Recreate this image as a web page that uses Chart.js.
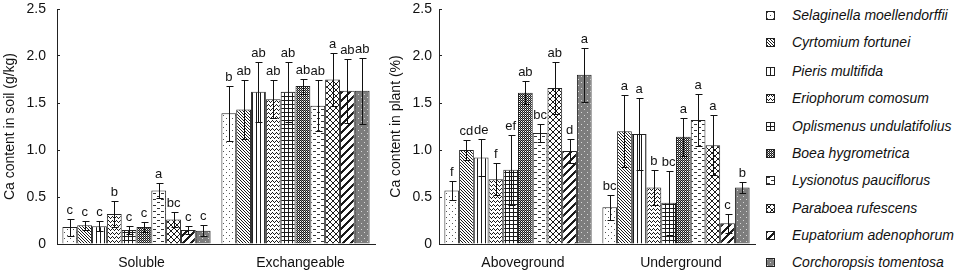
<!DOCTYPE html>
<html>
<head>
<meta charset="utf-8">
<script src="https://cdn.jsdelivr.net/npm/chart.js@4.4.1/dist/chart.umd.min.js"></script>
<style>
  html, body { margin:0; padding:0; background:#fff; }
  #wrap { position:relative; width:964px; height:275px; overflow:hidden; font-family: Arial, "Liberation Sans", sans-serif; }
  #c1box { position:absolute; left:0; top:0; width:385px; height:275px; }
  #c2box { position:absolute; left:385px; top:0; width:375px; height:275px; }
  .lg { position:absolute; left:760px; height:16px; width:204px; }
  .lg canvas { position:absolute; left:6px; top:4px; width:9px; height:9px; }
  .lg span { position:absolute; left:32px; top:0; line-height:16px; font-size:14px; font-style:italic; color:#111; white-space:nowrap; }
</style>
</head>
<body>
<div id="wrap">
  <div id="c1box"><canvas id="c1"></canvas></div>
  <div id="c2box"><canvas id="c2"></canvas></div>
  <div id="legend"></div>
</div>
<script>
// ---------- DATA ----------
const species = [
  'Selaginella moellendorffii', 'Cyrtomium fortunei', 'Pieris multifida', 'Eriophorum comosum',
  'Oplismenus undulatifolius', 'Boea hygrometrica', 'Lysionotus pauciflorus', 'Paraboea rufescens',
  'Eupatorium adenophorum', 'Corchoropsis tomentosa'
];
const soilCategories  = ['Soluble', 'Exchangeable'];
const plantCategories = ['Aboveground', 'Underground'];
const yTicks = [0, 0.5, 1.0, 1.5, 2.0, 2.5];

const solubleMean = [0.18, 0.20, 0.19, 0.32, 0.15, 0.18, 0.57, 0.26, 0.15, 0.14];
const solubleErr  = [0.09, 0.05, 0.05, 0.14, 0.04, 0.05, 0.08, 0.08, 0.04, 0.06];
const solubleSig  = ['c', 'c', 'c', 'b', 'c', 'c', 'a', 'bc', 'c', 'c'];

const exchMean = [1.39, 1.43, 1.62, 1.54, 1.62, 1.68, 1.47, 1.75, 1.63, 1.63];
const exchErr  = [0.29, 0.31, 0.32, 0.20, 0.32, 0.08, 0.27, 0.28, 0.34, 0.35];
const exchSig  = ['b', 'ab', 'ab', 'ab', 'ab', 'ab', 'ab', 'a', 'ab', 'ab'];

const aboveMean = [0.57, 1.00, 0.92, 0.69, 0.79, 1.61, 1.18, 1.66, 0.99, 1.80];
const aboveErr  = [0.10, 0.11, 0.20, 0.17, 0.37, 0.12, 0.10, 0.28, 0.13, 0.29];
const aboveSig  = ['f', 'cd', 'de', 'f', 'ef', 'ab', 'bc', 'ab', 'd', 'a'];

const underMean = [0.39, 1.20, 1.17, 0.60, 0.44, 1.14, 1.32, 1.05, 0.22, 0.60];
const underErr  = [0.13, 0.38, 0.38, 0.19, 0.34, 0.20, 0.28, 0.32, 0.10, 0.06];
const underSig  = ['bc', 'a', 'a', 'b', 'bc', 'a', 'a', 'a', 'c', 'b'];

// ---------- PATTERNS ----------
const INK = '#1a1a1a';
function tile(w, h, bg, fn) {
  const c = document.createElement('canvas');
  c.width = w; c.height = h;
  const g = c.getContext('2d');
  g.fillStyle = bg; g.fillRect(0, 0, w, h);
  fn(g, w, h);
  return c;
}
function px(g, x, y, col) { g.fillStyle = col || INK; g.fillRect(x, y, 1, 1); }
const tiles = [
  tile(6, 6, '#fff', g => { px(g,1,1,'#555'); px(g,4,4,'#555'); }),
  tile(3, 3, '#fff', g => { for (let i=0;i<3;i++) px(g,i,i); }),
  tile(4, 1, '#fff', g => { px(g,0,0); }),
  tile(4, 4, '#fff', g => { px(g,0,0); px(g,1,1); px(g,2,2); px(g,3,1); }),
  tile(4, 4, '#fff', g => { g.fillStyle = INK; g.fillRect(0,0,4,1); g.fillRect(0,0,1,4); }),
  tile(2, 2, '#fff', g => { px(g,0,0); px(g,1,1); px(g,1,0,'#888'); }),
  tile(8, 6, '#fff', g => { g.fillStyle = '#333'; g.fillRect(1,1,3,1); g.fillRect(5,4,3,1); }),
  tile(6, 6, '#fff', g => { for (let i=0;i<6;i++){ px(g,i,i); px(g,i,5-i); } }),
  tile(8, 8, '#fff', g => { for (let x=0;x<8;x++) for (let y=0;y<8;y++) if (((x+y)%8) < 3) px(g,x,y); }),
  tile(6, 6, '#7d7d7d', g => { px(g,1,1,'#d8d8d8'); px(g,4,4,'#d8d8d8'); })
];
function patternsFor(ctx) { return tiles.map(t => ctx.createPattern(t, 'repeat')); }

// ---------- PLUGIN: error bars + significance letters ----------
const errorBars = {
  id: 'errorBars',
  afterDatasetsDraw(chart) {
    const { ctx } = chart;
    const y = chart.scales.y;
    ctx.save();
    ctx.strokeStyle = '#111';
    ctx.lineWidth = 1;
    ctx.fillStyle = '#111';
    ctx.font = '13px Arial, "Liberation Sans", sans-serif';
    ctx.textAlign = 'center';
    ctx.textBaseline = 'alphabetic';
    chart.data.datasets.forEach((ds, i) => {
      const meta = chart.getDatasetMeta(i);
      meta.data.forEach((bar, j) => {
        const v = ds.data[j], e = ds.errors[j];
        const x = Math.round(bar.x) + 0.5;
        const yT = Math.round(y.getPixelForValue(v + e)) + 0.5;
        const yB = Math.round(y.getPixelForValue(v - e)) + 0.5;
        ctx.beginPath();
        ctx.moveTo(x, yT); ctx.lineTo(x, yB);
        ctx.moveTo(x - 3, yT); ctx.lineTo(x + 4, yT);
        ctx.moveTo(x - 3, yB); ctx.lineTo(x + 4, yB);
        ctx.stroke();
        ctx.fillText(ds.sig[j], bar.x, yT - 6);
      });
    });
    ctx.restore();
  }
};

Chart.defaults.font.family = 'Arial, "Liberation Sans", sans-serif';
Chart.defaults.color = '#111';
Chart.defaults.animation = false;

function build(canvasId, cats, m1, e1, s1, m2, e2, s2, opts) {
  const cv = document.getElementById(canvasId);
  const ctx = cv.getContext('2d');
  const pats = patternsFor(ctx);
  const datasets = species.map((name, i) => ({
    label: name,
    data: [m1[i], m2[i]],
    errors: [e1[i], e2[i]],
    sig: [s1[i], s2[i]],
    backgroundColor: pats[i],
    borderColor: '#222',
    borderWidth: 1,
    categoryPercentage: 0.932,
    barPercentage: 1.0
  }));
  return new Chart(ctx, {
    type: 'bar',
    data: { labels: cats, datasets },
    options: {
      responsive: true,
      maintainAspectRatio: false,
      layout: { padding: { left: 0, right: opts.padRight, top: 9, bottom: 0 } },
      plugins: { legend: { display: false }, tooltip: { enabled: false } },
      scales: {
        x: {
          grid: { display: false, drawTicks: false },
          border: { display: true, color: '#222', width: 1 },
          ticks: { font: { size: 14 }, color: '#111', padding: 11, labelOffset: 5, maxRotation: 0 },
          afterFit: a => { a.height = 31; a.paddingLeft = 0; a.paddingRight = 0; }
        },
        y: {
          min: 0, max: 2.5,
          afterBuildTicks: a => { a.ticks = yTicks.map(v => ({ value: v })); },
          grid: { display: true, drawOnChartArea: false, drawTicks: true, tickLength: -3, color: '#222' },
          border: { display: true, color: '#222', width: 1 },
          ticks: {
            font: { size: 14 }, color: '#111', padding: opts.tickPad,
            callback: v => v === 0 ? '0' : Number(v).toFixed(1)
          },
          title: { display: true, text: opts.title, font: { size: 14 }, color: '#111', padding: { top: opts.titlePad, bottom: 0 } },
          afterFit: a => { a.width = opts.axisWidth; a.paddingTop = 0; a.paddingBottom = 0; }
        }
      }
    },
    plugins: [errorBars]
  });
}

build('c1', soilCategories, solubleMean, solubleErr, solubleSig, exchMean, exchErr, exchSig,
  { padRight: 10, tickPad: 14, title: 'Ca content in soil (g/kg)', titlePad: 2, axisWidth: 57 });
build('c2', plantCategories, aboveMean, aboveErr, aboveSig, underMean, underErr, underSig,
  { padRight: 5, tickPad: 10, title: 'Ca content in plant (%)', titlePad: 3, axisWidth: 54 });

// ---------- LEGEND (HTML, real text) ----------
const legendRows = [15, 42, 71, 98, 126, 153, 180, 208, 235, 262];
const lg = document.getElementById('legend');
species.forEach((name, i) => {
  const row = document.createElement('div');
  row.className = 'lg';
  row.style.top = (legendRows[i] - 8) + 'px';
  const ic = document.createElement('canvas');
  ic.width = 9; ic.height = 9;
  const g = ic.getContext('2d');
  g.fillStyle = g.createPattern(tiles[i], 'repeat');
  g.fillRect(0, 0, 9, 9);
  g.strokeStyle = '#222'; g.lineWidth = 1;
  g.strokeRect(0.5, 0.5, 8, 8);
  const sp = document.createElement('span');
  sp.textContent = name;
  row.appendChild(ic); row.appendChild(sp);
  lg.appendChild(row);
});
</script>
</body>
</html>
